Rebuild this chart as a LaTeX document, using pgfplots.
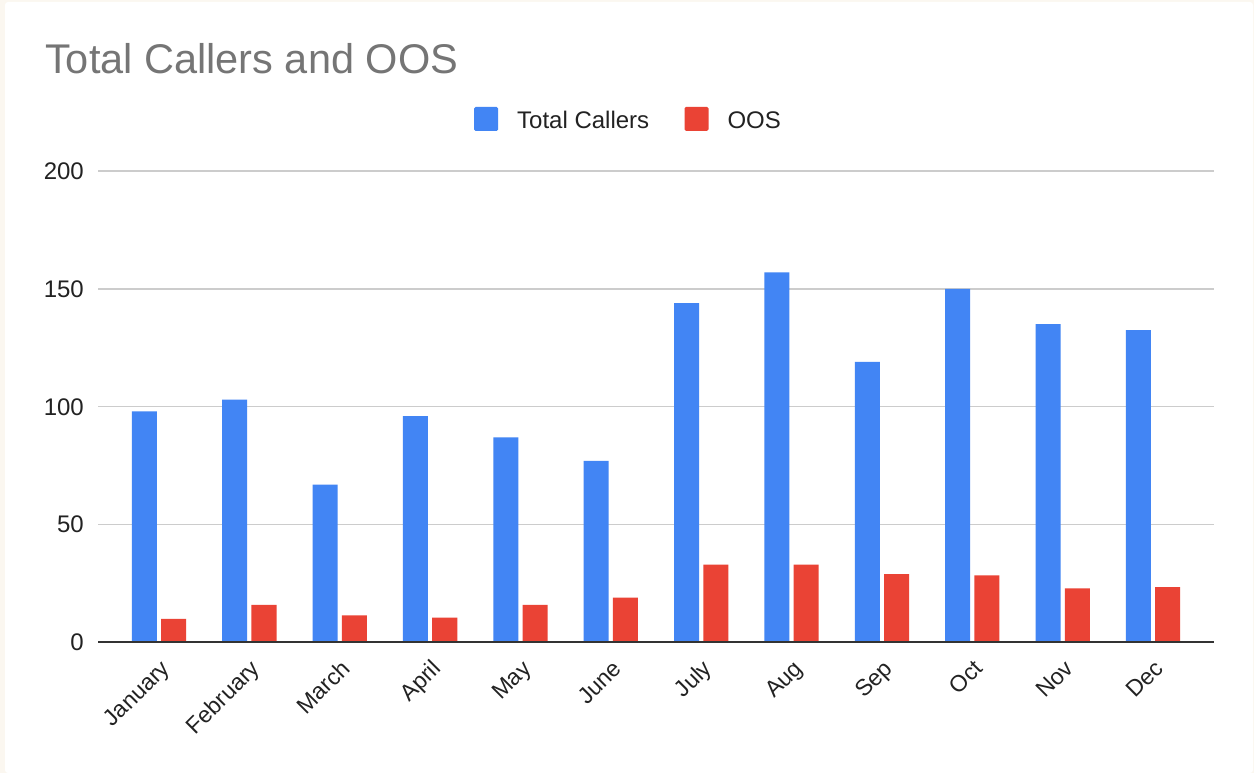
\documentclass[border=0pt]{standalone}
\usepackage{fontspec}
\setmainfont{Liberation Sans}
\usepackage{pgfplots}
\pgfplotsset{compat=1.18}
\definecolor{gblue}{HTML}{4285F4}
\definecolor{gred}{HTML}{EA4335}
\definecolor{cream}{HTML}{FBF7F0}
\definecolor{titlegray}{HTML}{757575}
\definecolor{txt}{HTML}{222222}
\definecolor{gridc}{HTML}{CCCCCC}
\definecolor{axisc}{HTML}{333333}
\begin{document}
\begin{tikzpicture}[x=1bp,y=1bp]
\fill[cream] (0,0) rectangle (1254,773);
\fill[white, rounded corners=3bp] (5,0) rectangle (1253,771);
\useasboundingbox (0,0) rectangle (1254,773);
\node[anchor=base west, inner sep=0pt, text=titlegray, font=\fontsize{41.5bp}{48bp}\selectfont] at (45,699) {Total Callers and OOS};
\begin{axis}[
  at={(98bp,130.5bp)}, anchor=south west,
  width=1116bp, height=471.5bp, scale only axis,
  xmin=-0.675, xmax=11.675, ymin=0, ymax=200,
  ybar, bar width=0.277,
  xtick={0,1,2,3,4,5,6,7,8,9,10,11},
  xticklabels={January,February,March,April,May,June,July,Aug,Sep,Oct,Nov,Dec},
  ytick={0,50,100,150,200},
  ymajorgrids, grid style={gridc, line width=1.3bp},
  axis line style={draw=none}, major tick length=0pt, tick style={draw=none},
  /pgf/number format/assume math mode=true,
  yticklabel style={inner sep=0pt, anchor=east, xshift=-14bp, text=txt, font=\fontsize{24bp}{28bp}\selectfont},
  xticklabel style={xshift=10bp, yshift=-25.5bp, rotate=45, anchor=east, inner sep=0pt, text height=0.72em, text depth=0.2em, text=txt, font=\fontsize{23bp}{27bp}\selectfont},
  legend columns=2,
  legend image code/.code={\fill[#1, rounded corners=1.5bp] (0bp,-10.5bp) rectangle (24bp,13.5bp);},
  legend style={at={(0.3369,1.0845)}, anchor=south west, draw=none, fill=none, inner sep=0pt,
    nodes={inner sep=0pt, text=txt, font=\fontsize{24bp}{28bp}\selectfont},
    column sep=0pt,
    /tikz/every odd column/.append style={column sep=19bp},
    /tikz/every even column/.append style={column sep=35.3bp}},
]
\addplot[fill=gblue, draw=none, bar shift=-0.162] coordinates {
 (0,98) (1,103) (2,67) (3,96) (4,87) (5,77) (6,144) (7,157) (8,119) (9,150) (10,135) (11,132.5)};
\addplot[fill=gred, draw=none, bar shift=0.162] coordinates {
 (0,10) (1,16) (2,11.5) (3,10.5) (4,16) (5,19) (6,33) (7,33) (8,29) (9,28.5) (10,23) (11,23.5)};
\legend{Total Callers, OOS}
\addplot[sharp plot, axisc, line width=2bp, forget plot] coordinates {(-0.675,0) (11.675,0)};
\end{axis}
\end{tikzpicture}
\end{document}
